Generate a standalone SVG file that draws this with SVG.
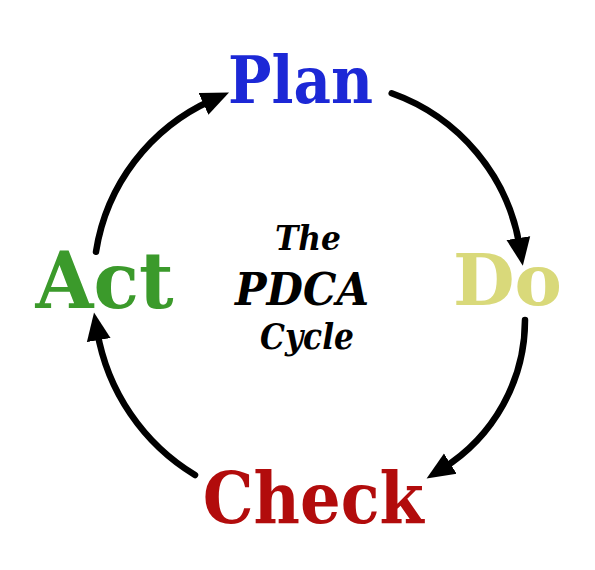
<svg xmlns="http://www.w3.org/2000/svg" width="595" height="570" viewBox="0 0 595 570">
  <style>
    .stage { font-family: "DejaVu Serif", "Liberation Serif", serif; font-weight: bold; text-anchor: middle; }
    .title { font-family: "DejaVu Serif", "Liberation Serif", serif; font-weight: bold; font-style: italic; text-anchor: middle; fill: #000000; }
    .arc { fill: none; stroke: #000000; stroke-width: 6.5; stroke-linecap: round; }
  </style>
  <defs>
    <marker id="arrow" markerUnits="userSpaceOnUse" markerWidth="30" markerHeight="26" viewBox="0 0 30 26" refX="9" refY="13" orient="auto">
      <path d="M0,1 L28,13 L0,25 Z" fill="#000000"/>
    </marker>
  </defs>
  <rect width="595" height="570" fill="#ffffff"/>

  <g id="connectors">
    <path class="arc" d="M391.7,93.3 A196.5,196.5 0 0 1 519.8,247" marker-end="url(#arrow)"/>
    <path class="arc" d="M525,320 A175,175 0 0 1 442.7,468.4" marker-end="url(#arrow)"/>
    <path class="arc" d="M195,475 A209,209 0 0 1 97.2,331.2" marker-end="url(#arrow)"/>
    <path class="arc" d="M96,251.7 A200,200 0 0 1 211.7,100.2" marker-end="url(#arrow)"/>
  </g>

  <g id="plan">
    <text class="stage" x="300.5" y="103" font-size="66" fill="#1c28d6" textLength="145" lengthAdjust="spacingAndGlyphs">Plan</text>
  </g>
  <g id="do">
    <text class="stage" x="507.5" y="305" font-size="71" fill="#d9d97a" textLength="109" lengthAdjust="spacingAndGlyphs">Do</text>
  </g>
  <g id="check">
    <text class="stage" x="313.3" y="523" font-size="71" fill="#b20c0c" textLength="221" lengthAdjust="spacingAndGlyphs">Check</text>
  </g>
  <g id="act">
    <text class="stage" x="104.5" y="308" font-size="78" fill="#3b9a2b" textLength="138" lengthAdjust="spacingAndGlyphs">Act</text>
  </g>
  <g id="title">
    <text class="title" x="308" y="249.5" font-size="34" textLength="66" lengthAdjust="spacingAndGlyphs">The</text>
    <text class="title" x="302" y="305" font-size="44" textLength="134" lengthAdjust="spacingAndGlyphs">PDCA</text>
    <text class="title" x="307" y="349" font-size="35" textLength="94" lengthAdjust="spacingAndGlyphs">Cycle</text>
  </g>
</svg>
